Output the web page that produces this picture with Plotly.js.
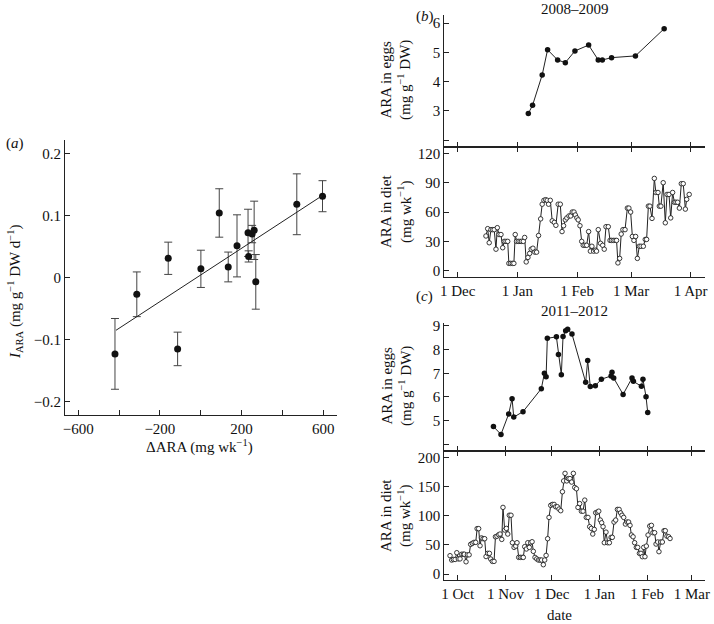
<!DOCTYPE html>
<html>
<head>
<meta charset="utf-8">
<script src="https://cdn.plot.ly/plotly-3.0.1.min.js"></script>
<style>html,body{margin:0;padding:0;background:#fff;}#chart{width:714px;height:624px;}</style>
</head>
<body>
<div id="chart"></div>
<script>
// Panel (a): intake vs change in dietary ARA
const aDeltaARA = [-420, -313, -159, -113, 1, 91, 135, 178, 232, 235, 252, 262, 270, 471, 597];
const aIARA     = [-0.123, -0.027, 0.031, -0.115, 0.014, 0.104, 0.017, 0.051, 0.072, 0.034, 0.070, 0.076, -0.007, 0.118, 0.131];
const aErr      = [0.057, 0.036, 0.026, 0.027, 0.030, 0.039, 0.024, 0.050, 0.038, 0.009, 0.014, 0.047, 0.044, 0.049, 0.025];
const aFitX = [-415, 596];
const aFitY = [-0.085, 0.132];
const aXTickVals = [-600, -200, 200, 600];
const aXTickText = ['\u2212600', '\u2212200', '200', '600'];
const aXMinorVals = [-400, 0, 400];
const aYTickVals = [-0.2, -0.1, 0, 0.1, 0.2];
const aYTickText = ['\u22120.2', '\u22120.1', '0', '0.1', '0.2'];

// Panel (b): 2008-2009, x = days since 1 Dec 2008
const bEggDay = [36.7, 38.9, 43.9, 46.7, 51.9, 55.9, 60.9, 68.0, 73.0, 75.1, 79.9, 92.3, 107.2];
const bEggARA = [2.91, 3.19, 4.23, 5.09, 4.74, 4.65, 5.05, 5.25, 4.74, 4.74, 4.82, 4.88, 5.81];
const bDietDay = [14.7,15.6,16.4,17.3,18.2,19.0,19.9,20.6,21.5,22.5,23.4,24.2,25.1,26.0,26.6,27.5,28.4,29.2,29.9,30.6,
  31.5,32.4,33.2,34.1,34.8,35.6,36.5,37.4,38.2,39.1,40.1,41.0,42.0,43.1,43.9,44.8,45.7,46.5,47.2,48.1,
  49.1,50.2,51.0,52.2,53.3,54.2,55.0,55.9,56.7,57.8,58.7,59.5,60.4,61.1,61.9,62.6,63.5,64.4,65.2,66.1,
  67.0,68.0,68.9,69.7,70.6,71.5,72.1,73.0,74.2,75.3,76.1,77.0,78.2,79.1,79.9,80.8,81.7,82.5,83.2,84.1,
  84.9,85.8,86.9,88.1,88.9,89.8,90.7,91.5,92.4,93.3,94.3,95.2,96.4,97.4,98.1,99.0,99.8,100.9,102.1,102.9,
  104.0,104.7,105.5,106.7,107.8,108.7,109.7,110.6,111.6,112.5,113.3,114.2,115.1,116.1,117.1,118.2,118.9,120.2];
const bDietARA = [35.5,43,28.6,42,42,42,22,44,37,37,23.5,30,30,30,
  7.5,7.5,7.5,7.5,37,30,30,30,30,30,34,
  9,13.6,17.7,22,23,19,19,36,53,68,72,72.6,72,68,72,
  51,49.4,46.4,68,68,40,46,52,54,56,56,60,60,57,54,52,46,
  30,26,26,26,40,20,25,20,21,20,
  42,28,26,22,45,45,31,31,31,31,31,
  8,12.6,37.5,42,42,64,64,60,35,31,35,12.6,25,25,25,32,32,
  66,66,53.5,94.4,80,80,66,66,90,49,78,78,54,80,70,70,70,64,89,89,63,73,78];
const bTickVals = [0, 31, 62, 90, 121];
const bTickText = ['1 Dec', '1 Jan', '1 Feb', '1 Mar', '1 Apr'];

// Panel (c): 2011-2012, x = days since 1 Oct 2011
const cEggDay = [23.2,28.1,33.1,35.3,36.4,42.4,54.3,56.3,57.4,58.2,64.1,65.4,67.3,68.4,70.1,71.4,74.2,83.1,84.4,86.1,89.4,93.3,99.6,100.2,101.3,107.4,113.2,114.1,119.3,120.3,122.3,123.4];
const cEggARA = [4.75,4.42,5.28,5.93,5.15,5.38,6.35,7.0,6.86,8.48,8.54,7.79,6.94,8.56,8.8,8.86,8.66,6.62,7.54,6.44,6.48,6.75,6.89,7.04,6.8,6.11,6.8,6.66,6.45,6.75,6.01,5.34];
const cDietDay = [-5.0,-3.9,-2.8,-1.7,-0.6,0.4,1.5,2.6,3.7,4.3,5.4,6.3,7.4,8.4,9.5,10.6,11.7,12.6,13.6,14.5,
  15.4,16.5,17.5,18.4,19.5,20.6,21.4,22.5,23.6,24.5,25.5,26.6,27.5,28.6,29.4,30.5,31.6,32.5,33.5,34.6,
  35.5,36.6,37.7,38.5,39.6,40.7,41.8,42.6,43.5,44.6,45.5,46.5,47.4,48.3,49.1,50.2,51.3,52.4,53.5,54.5,
  55.6,56.5,57.4,58.4,59.3,60.4,61.5,62.6,63.6,64.7,65.8,66.9,68.0,68.8,69.7,70.8,71.9,72.9,74.0,75.1,
  76.0,77.1,78.1,79.2,80.3,81.4,82.5,83.5,84.6,85.7,86.8,87.7,88.7,89.6,90.7,91.6,92.6,93.5,94.4,95.2,
  96.3,97.4,98.5,99.6,100.4,101.5,102.6,103.7,104.8,105.8,106.7,107.8,108.9,110.0,111.0,111.9,112.8,113.9,114.9,116.0,
  116.9,118.0,119.0,119.9,120.8,121.6,122.5,123.6,124.7,125.8,126.8,127.9,128.8,129.9,130.7,131.8,132.9,134.0,134.8,135.9,
  137.0,137.9];
const cDietARA = [31.5,24,25,25,36.6,26,26,34,34,34,
  21,33,33,51,52.7,54.4,54.4,78,78,48.6,
  62,60.7,60.7,30,35.5,35.5,25.8,21.7,21.7,64,
  65,67.5,68.7,59.5,114.5,75.6,78.4,68.7,101,101,
  53.8,45.8,48,53.8,28.6,28.6,28.6,28.6,47,43,
  53.8,45.8,53.8,55.5,39,28.6,26,24,24,24,
  16,24,32,60.7,97.3,118,119.6,119.6,115.6,115.6,
  111.6,108.8,141.4,160,173,160,164,164,158,173,
  148.8,146.5,114.5,121,108,108,127,97.3,97.3,81.3,
  78.4,68.7,76.7,105.3,106.5,108,92.7,88,81.3,53.8,
  72,53.8,53.8,63,63,89.3,92.7,111,111,105,
  101,97.3,85.9,89.3,89.3,83.6,67,64,53.8,45.8,
  45.8,35.5,35.5,29.8,45.8,29.8,48,67,82.4,83.6,
  71,71,51.5,55,38.4,55,55,74.4,74.4,65,
  64,61];
const cTickVals = [0, 31, 61, 92, 123, 152];
const cTickText = ['1 Oct', '1 Nov', '1 Dec', '1 Jan', '1 Feb', '1 Mar'];

const FONT = "'Liberation Serif', 'Times New Roman', serif";
const INK = '#222';

const traces = [
  {x: aDeltaARA, y: aIARA, type: 'scatter', mode: 'markers', xaxis: 'x', yaxis: 'y',
   marker: {color: '#111', size: 7},
   error_y: {type: 'data', array: aErr, visible: true, color: '#444', thickness: 1, width: 4}},
  {x: aFitX, y: aFitY, type: 'scatter', mode: 'lines', xaxis: 'x', yaxis: 'y',
   line: {color: INK, width: 1}},
  {x: bEggDay, y: bEggARA, type: 'scatter', mode: 'lines+markers', xaxis: 'x2', yaxis: 'y2',
   line: {color: INK, width: 1}, marker: {color: '#111', size: 5.5}},
  {x: bDietDay, y: bDietARA, type: 'scatter', mode: 'lines+markers', xaxis: 'x3', yaxis: 'y3',
   line: {color: INK, width: 1}, marker: {color: '#fff', size: 4.5, line: {color: INK, width: 0.9}}},
  {x: cEggDay, y: cEggARA, type: 'scatter', mode: 'lines+markers', xaxis: 'x4', yaxis: 'y4',
   line: {color: INK, width: 1}, marker: {color: '#111', size: 5.5}},
  {x: cDietDay, y: cDietARA, type: 'scatter', mode: 'lines+markers', xaxis: 'x5', yaxis: 'y5',
   line: {color: INK, width: 1}, marker: {color: '#fff', size: 4.5, line: {color: INK, width: 0.9}}}
];

const base = {showgrid: false, zeroline: false, showline: true, linecolor: INK, linewidth: 1,
  ticks: 'inside', ticklen: 5, tickcolor: INK, tickwidth: 1, tickmode: 'array',
  tickfont: {family: FONT, size: 15, color: '#111'}, fixedrange: true};
function ax(o) { return Object.assign({}, base, o); }
function minorTicks(vals) { return {tickmode: 'array', tickvals: vals, ticks: 'inside', ticklen: 5, tickcolor: INK, tickwidth: 1, showgrid: false}; }

const rx = [0.6223, 0.9874];
const layout = {
  width: 714, height: 624, margin: {l: 0, r: 0, t: 0, b: 0},
  paper_bgcolor: '#fff', plot_bgcolor: 'rgba(0,0,0,0)', showlegend: false,
  font: {family: FONT, size: 15, color: '#111'},
  xaxis: ax({domain: [0.0910, 0.4720], range: [-665, 668], anchor: 'y', tickvals: aXTickVals, ticktext: aXTickText, minor: minorTicks(aXMinorVals)}),
  yaxis: ax({domain: [0.3349, 0.7756], range: [-0.2215, 0.2215], anchor: 'x', tickvals: aYTickVals, ticktext: aYTickText}),
  xaxis2: ax({domain: rx, range: [-6.9, 128.4], anchor: 'y2', tickvals: bTickVals, showticklabels: false}),
  yaxis2: ax({domain: [0.7649, 0.9760], range: [1.774, 6.28], anchor: 'x2', tickvals: [3, 4, 5, 6], ticktext: ['3', '4', '5', '6'], minor: minorTicks([2])}),
  xaxis3: ax({domain: rx, range: [-6.9, 128.4], anchor: 'y3', mirror: 'ticks', tickvals: bTickVals, ticktext: bTickText}),
  yaxis3: ax({domain: [0.5566, 0.7649], range: [-6.1, 126.8], anchor: 'x3', tickvals: [0, 30, 60, 90, 120], ticktext: ['0', '30', '60', '90', '120']}),
  xaxis4: ax({domain: rx, range: [-8.7, 160.6], anchor: 'y4', tickvals: cTickVals, showticklabels: false}),
  yaxis4: ax({domain: [0.2777, 0.4829], range: [3.73, 9.14], anchor: 'x4', tickvals: [5, 6, 7, 8, 9], ticktext: ['5', '6', '7', '8', '9'], minor: minorTicks([4])}),
  xaxis5: ax({domain: rx, range: [-8.7, 160.6], anchor: 'y5', mirror: 'ticks', tickvals: cTickVals, ticktext: cTickText}),
  yaxis5: ax({domain: [0.0705, 0.2777], range: [-10.3, 211.9], anchor: 'x5', tickvals: [0, 50, 100, 150, 200], ticktext: ['0', '50', '100', '150', '200']}),
  annotations: [
    {text: '(<i>a</i>)', x: 0.021, y: 0.7708},
    {text: '(<i>b</i>)', x: 0.5952, y: 0.9728},
    {text: '(<i>c</i>)', x: 0.5952, y: 0.5256},
    {text: '2008\u20132009', x: 0.8053, y: 0.9856},
    {text: '2011\u20132012', x: 0.8053, y: 0.5016},
    {text: '<i>I</i><sub>ARA</sub> (mg g<sup>\u22121</sup> DW d<sup>\u22121</sup>)', x: 0.021, y: 0.532, textangle: -90},
    {text: '\u0394ARA (mg wk<sup>\u22121</sup>)', x: 0.2801, y: 0.284},
    {text: 'ARA in eggs<br>(mg g<sup>\u22121</sup> DW)', x: 0.556, y: 0.8718, textangle: -90},
    {text: 'ARA in diet<br>(mg wk<sup>\u22121</sup>)', x: 0.556, y: 0.6619, textangle: -90},
    {text: 'ARA in eggs<br>(mg g<sup>\u22121</sup> DW)', x: 0.556, y: 0.3814, textangle: -90},
    {text: 'ARA in diet<br>(mg wk<sup>\u22121</sup>)', x: 0.556, y: 0.1747, textangle: -90},
    {text: 'date', x: 0.7843, y: 0.0144}
  ].map(a => Object.assign({xref: 'paper', yref: 'paper', showarrow: false, xanchor: 'center', yanchor: 'middle',
    font: {family: FONT, size: 15, color: '#111'}}, a))
};

Plotly.newPlot('chart', traces, layout, {displayModeBar: false, staticPlot: true});
</script>
</body>
</html>
